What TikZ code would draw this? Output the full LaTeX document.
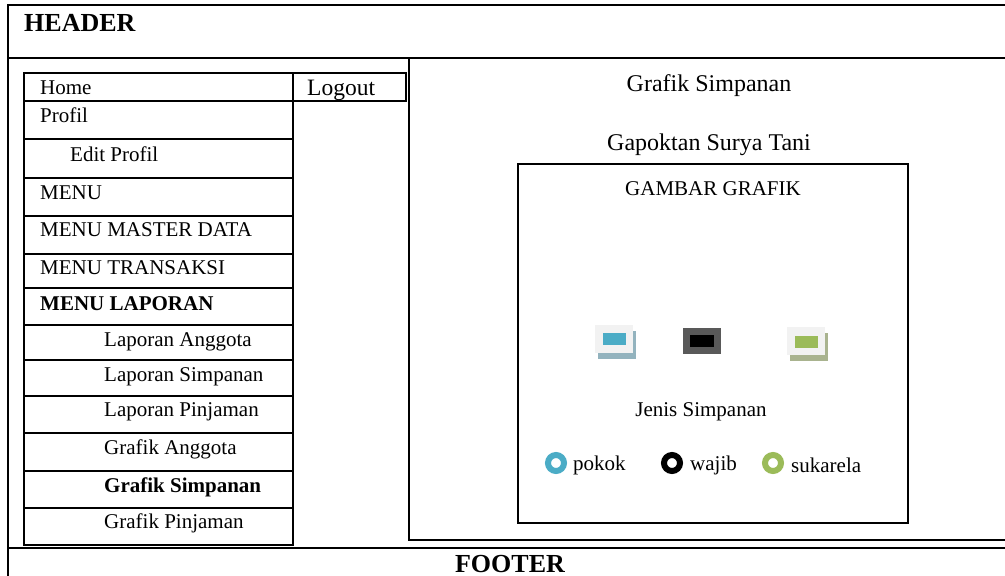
\documentclass[tikz,border=0pt]{standalone}
\usepackage{fontspec}
\setmainfont{Liberation Serif}
\usetikzlibrary{positioning}

\definecolor{keyblue}{HTML}{4BACC6}
\definecolor{keygreen}{HTML}{9BBB59}
\definecolor{keygray}{HTML}{595959}
\definecolor{keylight}{HTML}{F2F2F2}
\definecolor{shadeblue}{HTML}{93B3BE}
\definecolor{shadegreen}{HTML}{A9B38F}

\begin{document}
\begin{tikzpicture}[
    x=1pt, y=-1pt,
    frame/.style={line width=1.7pt},
    menuline/.style={line width=2pt},
    panel/.style={line width=1.3pt},
    item/.style={anchor=base west, inner sep=0pt, font=\fontsize{21}{24}\selectfont},
    title/.style={anchor=base, inner sep=0pt, font=\fontsize{24}{28}\selectfont},
    label/.style={anchor=base, inner sep=0pt, font=\fontsize{21}{24}\selectfont},
    bigbold/.style={inner sep=0pt, font=\fontsize{26}{30}\selectfont\bfseries},
    keybox/.style={inner sep=0pt, minimum width=38pt, minimum height=28pt},
    keyinner/.style={inner sep=0pt, minimum width=23pt, minimum height=12pt},
    ring/.style={circle, draw, line width=6pt, minimum size=16pt, inner sep=0pt}
]
\useasboundingbox (0,0) rectangle (1005,576);

% Page frame, header and footer
\draw[frame] (8,600) -- (8,5) -- (1030,5);
\draw[frame] (8,58) -- (1030,58);
\draw[frame] (8,548) -- (1030,548);
\node[bigbold, anchor=base west] (header) at (24,31) {HEADER};
\node[bigbold, anchor=base] (footer) at (510,572) {FOOTER};

% Menu
\draw[menuline] (24,73) rectangle (293,545);
\draw[menuline] (293,73) rectangle (406,101);
\foreach \y in {101,139,178,216,254,288,325,360,396,433,471,508}
    \draw[menuline] (24,\y) -- (293,\y);

\node[item] (home) at (40,94) {Home};
\node[title, anchor=base west, font=\fontsize{23.5}{28}\selectfont] (logout) at (307,95) {Logout};
\node[item] (profil) at (40,122) {Profil};
\node[item] (editprofil) at (70,161) {Edit Profil};
\node[item] (menu) at (40,199) {MENU};
\node[item] (master) at (40,236) {MENU MASTER DATA};
\node[item] (transaksi) at (40,274) {MENU TRANSAKSI};
\node[item, font=\fontsize{21}{24}\selectfont\bfseries] (laporan) at (40,310) {MENU LAPORAN};
\node[item] (lapanggota) at (104,346) {Laporan Anggota};
\node[item] (lapsimpanan) at (104,381) {Laporan Simpanan};
\node[item] (lappinjaman) at (104,416) {Laporan Pinjaman};
\node[item] (grafanggota) at (104,454) {Grafik Anggota};
\node[item, font=\fontsize{21}{24}\selectfont\bfseries] (grafsimpanan) at (104,492) {Grafik Simpanan};
\node[item] (grafpinjaman) at (104,528) {Grafik Pinjaman};

% Content panel
\draw[panel] (409,58) rectangle (1030,540);
\node[title] (judul) at (709,91) {Grafik Simpanan};
\node[title] (gapoktan) at (709,150) {Gapoktan Surya Tani};
\draw[frame] (518,164) rectangle (908,523);
\node[label] (gambar) at (713,195) {GAMBAR GRAFIK};

% Chart keys
\node[keybox, fill=shadeblue] (shadow1) at (617,344.5) {};
\node[keybox, fill=keylight] (key1) at (614,339) {};
\node[keyinner, fill=keyblue] (inner1) at (614,339) {};
\node[keybox, fill=keygray, minimum height=26pt] (key2) at (702,341) {};
\node[keyinner, fill=black, minimum width=24pt] (inner2) at (702,341) {};
\node[keybox, fill=shadegreen] (shadow3) at (808.5,346.5) {};
\node[keybox, fill=keylight] (key3) at (806,340.5) {};
\node[keyinner, fill=keygreen] (inner3) at (806,341.5) {};

\node[label] (jenis) at (701,416) {Jenis Simpanan};

% Legend
\node[ring, draw=keyblue] (pokokring) at (556,463) {};
\node[item, right=6pt of pokokring.east, anchor=west, yshift=-2pt] (pokok) {pokok};
\node[ring, draw=black] (wajibring) at (672,463) {};
\node[item, right=7pt of wajibring.east, anchor=west, yshift=-2pt] (wajib) {wajib};
\node[ring, draw=keygreen] (sukaring) at (773,463) {};
\node[item, right=7pt of sukaring.east, anchor=west, yshift=-2pt] (sukarela) {sukarela};

\end{tikzpicture}
\end{document}
